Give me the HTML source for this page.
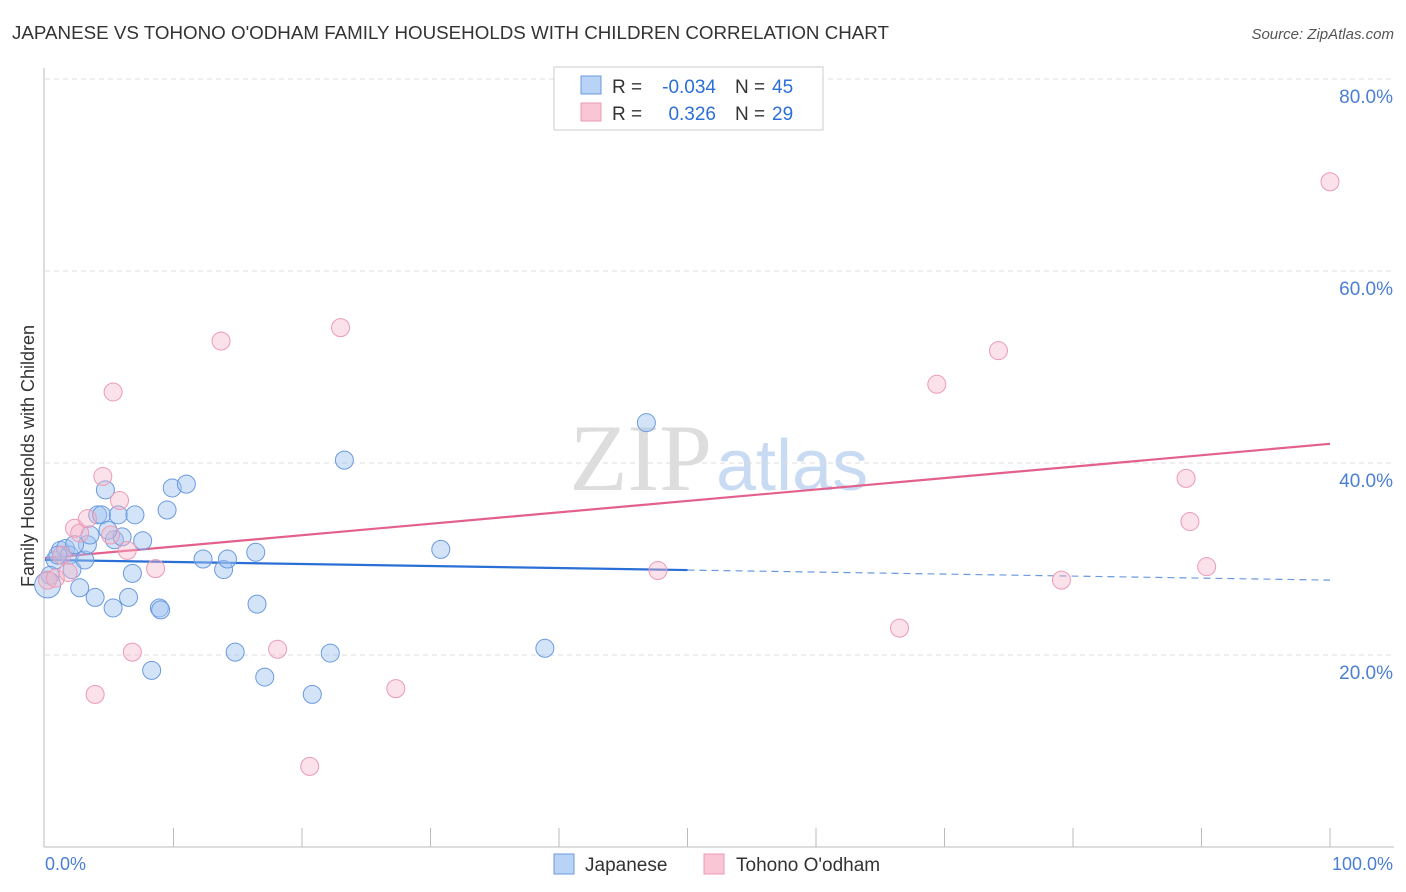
<!DOCTYPE html>
<html><head><meta charset="utf-8"><style>
body{margin:0;background:#fff;font-family:"Liberation Sans",sans-serif}
svg{display:block}
</style></head><body>
<svg width="1406" height="892" id="c">
<text x="12" y="39" font-size="18" fill="#333" textLength="877" lengthAdjust="spacingAndGlyphs">JAPANESE VS TOHONO O'ODHAM FAMILY HOUSEHOLDS WITH CHILDREN CORRELATION CHART</text>
<text x="1394" y="39" font-size="15" fill="#555" font-style="italic" text-anchor="end">Source: ZipAtlas.com</text>
<text x="712" y="490" font-size="95" fill="#ddd" text-anchor="end" font-family="Liberation Serif">ZIP</text>
<text x="716" y="490" font-size="72" fill="#c9dbf3">atlas</text>
<text transform="translate(34,456) rotate(-90)" font-size="18" fill="#333" text-anchor="middle">Family Households with Children</text>
<line x1="44" y1="68" x2="44" y2="847" stroke="#bbb"/>
<line x1="44" y1="847" x2="1394" y2="847" stroke="#bbb"/>
<g id="grid"></g><g id="ticks"></g><g id="trend"></g><g id="pts"></g>
<text x="45" y="870" font-size="18" fill="#4a7fd4">0.0%</text>
<text x="1393" y="870" font-size="18" fill="#4a7fd4" text-anchor="end">100.0%</text>
<g>
<rect x="554" y="67" width="269" height="63" fill="#fff" stroke="#ccc"/>
<rect x="581" y="76" width="20" height="18" fill="#b8d3f5" stroke="#6a9ae0"/>
<rect x="581" y="103" width="20" height="18" fill="#f9c6d5" stroke="#ec9ab5"/>
<text x="612" y="93" font-size="19" fill="#333">R =</text>
<text x="716" y="93" font-size="19" fill="#2b6fd6" text-anchor="end">-0.034</text>
<text x="735" y="93" font-size="19" fill="#333">N =</text>
<text x="772" y="93" font-size="19" fill="#2b6fd6">45</text>
<text x="612" y="120" font-size="19" fill="#333">R =</text>
<text x="716" y="120" font-size="19" fill="#2b6fd6" text-anchor="end">0.326</text>
<text x="735" y="120" font-size="19" fill="#333">N =</text>
<text x="772" y="120" font-size="19" fill="#2b6fd6">29</text>
</g>
<g>
<rect x="554" y="854" width="20" height="20" fill="#b8d3f5" stroke="#6a9ae0"/>
<text x="585" y="871" font-size="19" fill="#333">Japanese</text>
<rect x="704" y="854" width="20" height="20" fill="#f9c6d5" stroke="#ec9ab5"/>
<text x="736" y="871" font-size="19" fill="#333">Tohono O'odham</text>
</g>
</svg>
<script>
const yTicks=[20,40,60,80];
const xTickCount=10;
const japX=[0.8,1.2,1.6,1.9,2.1,2.7,3.1,3.3,3.5,3.9,4.1,4.4,4.7,5.3,5.4,5.7,6.0,6.5,6.8,7.0,7.6,8.3,8.9,9.0,9.5,9.9,11.0,12.3,13.9,14.2,14.8,16.4,16.5,17.1,20.8,22.2,23.3,30.8,38.9,46.8,0.4,0.2,1.0,2.3,4.9];
const japY=[29.9,30.9,31.1,30.4,28.9,27.0,29.9,31.5,32.5,26.0,34.6,34.6,37.2,24.9,32.0,34.6,32.3,26.0,28.5,34.6,31.9,18.4,24.9,24.7,35.1,37.4,37.8,30.0,28.9,30.0,20.3,30.7,25.3,17.7,15.9,20.2,40.3,31.0,20.7,44.2,28.3,27.3,30.4,31.5,33.0];
const tohX=[0.2,0.8,1.3,1.8,2.3,2.7,3.3,3.9,4.5,5.1,5.3,5.8,6.4,6.8,8.6,13.7,18.1,20.6,23.0,27.3,47.7,66.5,69.4,74.2,79.1,88.8,89.1,90.4,100];
const tohY=[27.8,28.0,30.4,28.6,33.2,32.7,34.2,15.9,38.6,32.5,47.4,36.1,30.9,20.3,29.0,52.7,20.6,8.4,54.1,16.5,28.8,22.8,48.2,51.7,27.8,38.4,33.9,29.2,69.3];
const japTrend=[29.9,27.8];
const tohTrend=[30.1,42.0];
const X=v=>45+v*12.85, Y=v=>847-v*9.6;
const NS='http://www.w3.org/2000/svg';
function mk(p,t,a){const e=document.createElementNS(NS,t);for(const k in a)e.setAttribute(k,a[k]);p.appendChild(e);return e;}
const grid=document.getElementById('grid');
yTicks.forEach(v=>{
 const l=mk(grid,'line',{x1:45,x2:1394,y1:Y(v),y2:Y(v),stroke:'#ddd','stroke-dasharray':'5,4'});
 
 
 const t=mk(grid,'text',{x:1393,y:Y(v)+24,'font-size':19,fill:'#4a7fd4','text-anchor':'end'});
 t.textContent=v.toFixed(1)+'%';
 
 
});
const tk=document.getElementById('ticks');
for(let i=1;i<=xTickCount;i++){const l=mk(tk,'line',{x1:X(i*10),x2:X(i*10),y1:828,y2:847,stroke:'#bbb'});
 
 }
const tr=document.getElementById('trend');
let l1=mk(tr,'line',{x1:X(0),y1:Y(japTrend[0]),x2:X(50),y2:Y((japTrend[0]+japTrend[1])/2),stroke:'#2a6fd6','stroke-width':2.2});


let l2=mk(tr,'line',{x1:X(50),y1:Y((japTrend[0]+japTrend[1])/2),x2:X(100),y2:Y(japTrend[1]),stroke:'#6a9ae0','stroke-width':1.2,'stroke-dasharray':'7,5'});


let l3=mk(tr,'line',{x1:X(0),y1:Y(tohTrend[0]),x2:X(100),y2:Y(tohTrend[1]),stroke:'#e4608c','stroke-width':2.2});


const pts=document.getElementById('pts');
japX.forEach((x,i)=>{const c=mk(pts,'circle',{cx:X(x),cy:Y(japY[i]),r:i==41?13:9,fill:'rgba(160,195,240,0.45)',stroke:'#6a9ae0','stroke-width':1});
 
 });
tohX.forEach((x,i)=>{const c=mk(pts,'circle',{cx:X(x),cy:Y(tohY[i]),r:9,fill:'rgba(245,180,200,0.4)',stroke:'#ec9ab5','stroke-width':1});
 
 });
</script>
</body></html>
